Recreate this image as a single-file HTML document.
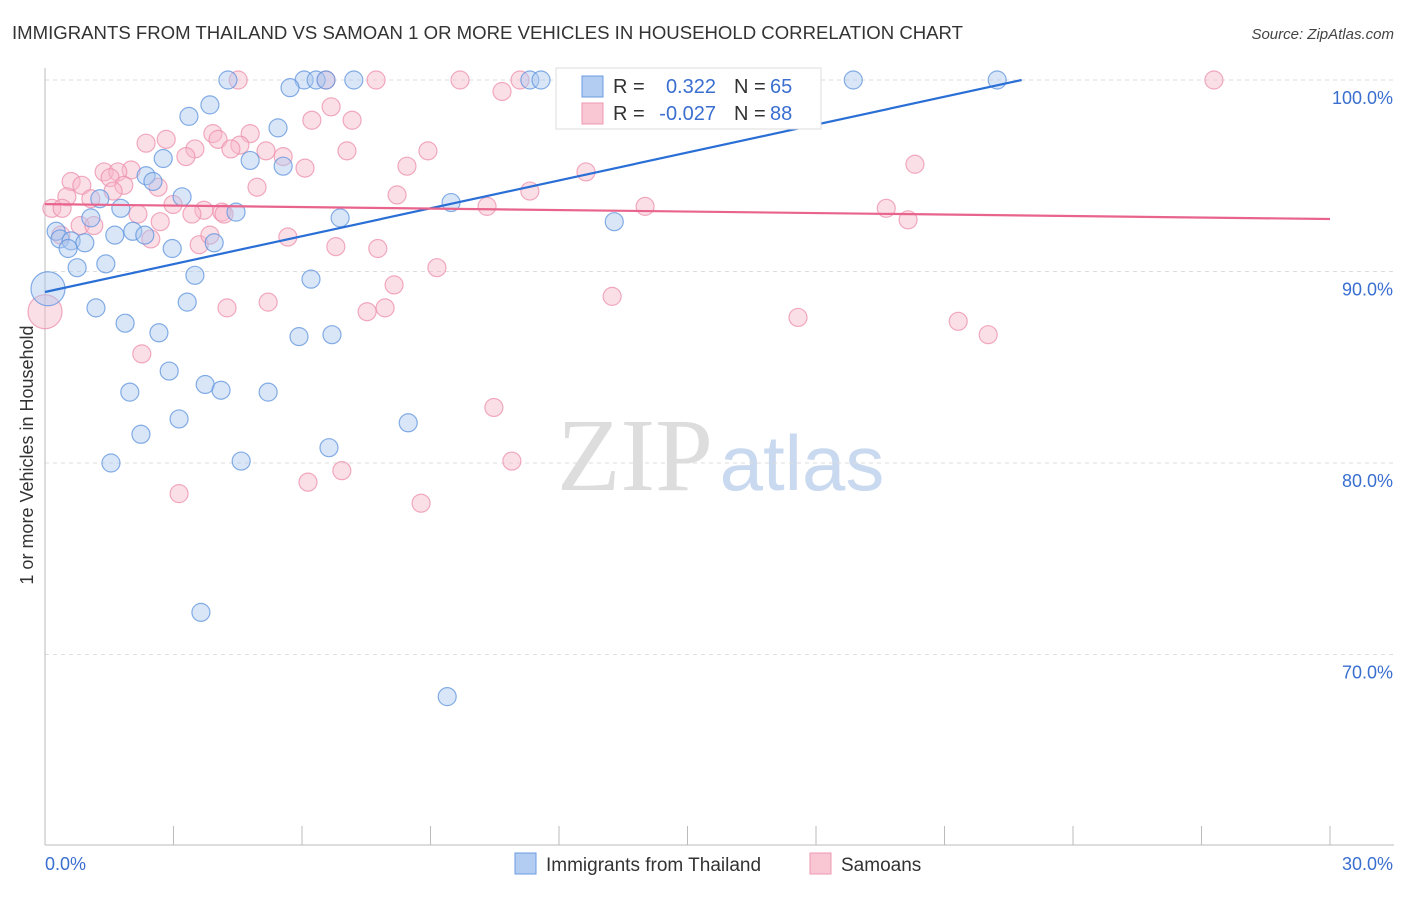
<!DOCTYPE html>
<html><head><meta charset="utf-8"><style>
body{margin:0;background:#fff;width:1406px;height:892px;overflow:hidden;font-family:"Liberation Sans",sans-serif}
</style></head><body>
<svg id="chart" width="1406" height="892" xmlns="http://www.w3.org/2000/svg">
<text x="12" y="39" font-size="18" fill="#333" textLength="951" lengthAdjust="spacingAndGlyphs">IMMIGRANTS FROM THAILAND VS SAMOAN 1 OR MORE VEHICLES IN HOUSEHOLD CORRELATION CHART</text>
<text x="1394" y="39" font-size="15" fill="#444" text-anchor="end" font-style="italic">Source: ZipAtlas.com</text>
<text transform="translate(33,455) rotate(-90)" font-size="18" fill="#333" text-anchor="middle">1 or more Vehicles in Household</text>
<g><text x="635" y="490" font-size="104" fill="#ddd" font-family="Liberation Serif,serif" text-anchor="middle">ZIP</text><text x="802" y="490" font-size="78" fill="#c9d9ef" text-anchor="middle">atlas</text></g>
<g id="grid"></g><g id="axes"></g><g id="pts"></g><g id="trends"></g>
<g>
<rect x="556" y="68" width="265" height="61" fill="#fff" stroke="#ddd"/>
<rect x="582" y="76" width="21" height="21" fill="#b3cdf2" stroke="#6a9be0"/>
<rect x="582" y="103" width="21" height="21" fill="#f9c6d4" stroke="#ef9ab2"/>
<text x="613" y="93" font-size="20" fill="#333">R =</text><text x="716" y="93" font-size="20" fill="#3a6fd0" text-anchor="end">0.322</text>
<text x="734" y="93" font-size="20" fill="#333">N =</text><text x="770" y="93" font-size="20" fill="#3a6fd0">65</text>
<text x="613" y="120" font-size="20" fill="#333">R =</text><text x="716" y="120" font-size="20" fill="#3a6fd0" text-anchor="end">-0.027</text>
<text x="734" y="120" font-size="20" fill="#333">N =</text><text x="770" y="120" font-size="20" fill="#3a6fd0">88</text>
</g>
<g>
<rect x="515" y="853" width="21" height="21" fill="#b3cdf2" stroke="#6a9be0"/>
<text x="546" y="871" font-size="19" fill="#333">Immigrants from Thailand</text>
<rect x="810" y="853" width="21" height="21" fill="#f9c6d4" stroke="#ef9ab2"/>
<text x="841" y="871" font-size="19" fill="#333">Samoans</text>
</g>
</svg>
<script>
const yTicks=[100,90,80,70];
const yTickLabels=["100.0%","90.0%","80.0%","70.0%"];
const xTickLabels=["0.0%","30.0%"];
const blueX=[4.27,6.05,6.33,6.56,7.21,11.32,11.58,18.87,22.23,5.72,17.63,3.85,3.36,5.44,2.76,4.79,5.56,2.36,2.52,3.20,1.28,1.77,4.46,1.07,9.48,13.29,6.89,0.26,0.35,0.61,0.93,0.54,1.63,2.05,2.33,2.97,3.95,1.42,0.75,3.50,6.21,0.07,1.19,3.32,1.87,2.66,5.93,6.70,2.90,3.74,4.11,1.98,5.21,3.13,8.48,2.24,6.63,1.54,4.58,3.64,9.39];
const blueY=[100,100,100,100,100,100,100,100,100,99.6,99.1,98.7,98.1,97.5,95.9,95.8,95.5,95.0,94.7,93.9,93.8,93.3,93.1,92.8,93.6,92.6,92.8,92.1,91.7,91.6,91.5,91.2,91.9,92.1,91.9,91.2,91.5,90.4,90.2,89.8,89.6,89.1,88.1,88.4,87.3,86.8,86.6,86.7,84.8,84.1,83.8,83.7,83.7,82.3,82.1,81.5,80.8,80.0,80.1,72.2,67.8];
const pinkX=[4.51,6.56,7.73,9.69,11.09,12.35,14.94,27.29,10.67,6.68,7.17,6.23,4.79,3.92,2.83,2.36,4.04,4.55,4.34,3.50,5.16,7.05,3.29,5.56,8.94,8.45,20.31,6.07,12.63,2.01,1.38,1.70,1.52,1.84,0.61,0.86,2.64,1.59,4.95,8.22,11.32,1.07,0.51,0.16,0.40,2.99,3.71,4.13,10.32,14.01,19.64,2.17,3.43,4.18,2.69,0.82,1.14,20.15,0.37,2.47,3.60,3.85,5.67,6.79,7.77,9.15,8.15,13.24,5.21,4.25,7.52,7.94,0.0,17.58,21.32,22.02,2.26,10.48,10.90,6.93,6.14,3.13,8.78];
const pinkY=[100,100,100,100,100,100,100,100,99.4,98.6,97.9,97.9,97.2,97.2,96.9,96.7,96.9,96.6,96.4,96.4,96.3,96.3,96.0,96.0,96.3,95.5,95.6,95.4,95.2,95.3,95.2,95.2,94.9,94.5,94.7,94.5,94.4,94.2,94.4,94.0,94.2,93.8,93.9,93.3,93.3,93.5,93.2,93.1,93.4,93.4,93.3,93.0,93.0,93.0,92.6,92.4,92.4,92.7,91.9,91.7,91.4,91.9,91.8,91.3,91.2,90.2,89.3,88.7,88.4,88.1,87.9,88.1,87.9,87.6,87.4,86.7,85.7,82.9,80.1,79.6,79.0,78.4,77.9];
const blueBig=[41];const pinkBig=[72];
const blueTrend=[88.93,100];const blueTrendX=[0,22.8];
const pinkTrend=[93.52,92.74];const pinkTrendX=[0,30];
const NS="http://www.w3.org/2000/svg";
const sx=v=>45+v*(1285/30);
const sy=v=>80+(100-v)*19.15;
function mk(t,a,p){const e=document.createElementNS(NS,t);for(const k in a)e.setAttribute(k,a[k]);document.getElementById(p).appendChild(e);return e;}
yTicks.forEach((t,i)=>{
 const g=mk('line',{x1:45,x2:1394,y1:sy(t),y2:sy(t),stroke:'#ddd','stroke-dasharray':'4,4'},'grid');
 
 
 const l=mk('text',{x:1393,y:sy(t)+24,'font-size':18,fill:'#3a6fd0','text-anchor':'end'},'axes');
 l.textContent=yTickLabels[i];
 
 
});
const ax=mk('line',{x1:45,x2:45,y1:68,y2:845,stroke:'#bbb'},'axes');


const bx=mk('line',{x1:45,x2:1394,y1:845,y2:845,stroke:'#bbb'},'axes');


for(let i=0;i<=10;i++){const t=mk('line',{x1:sx(i*3),x2:sx(i*3),y1:826,y2:845,stroke:'#bbb'},'axes');
 
 }
[[0,'start',45],[30,'end',1393]].forEach((d,i)=>{const t=mk('text',{x:d[2],y:870,'font-size':18,fill:'#3a6fd0','text-anchor':d[1]},'axes');t.textContent=xTickLabels[i];
 
 });
function pts(X,Y,big,fill,stroke,name){X.forEach((x,i)=>{const c=mk('circle',{cx:sx(x),cy:sy(Y[i]),r:big.includes(i)?17:9,fill:fill,'fill-opacity':0.45,stroke:stroke,'stroke-opacity':0.75,'stroke-width':1.2},'pts');
 
 });}
pts(pinkX,pinkY,pinkBig,'#f7b7ca','#ec8fab','samoan-point');
pts(blueX,blueY,blueBig,'#aac8f0','#5e93de','thailand-point');
const bl=mk('line',{x1:sx(blueTrendX[0]),y1:sy(blueTrend[0]),x2:sx(blueTrendX[1]),y2:sy(blueTrend[1]),stroke:'#2a6fd6','stroke-width':2.2},'trends');


const pl=mk('line',{x1:sx(pinkTrendX[0]),y1:sy(pinkTrend[0]),x2:sx(pinkTrendX[1]),y2:sy(pinkTrend[1]),stroke:'#e8648c','stroke-width':2.2},'trends');


</script>
</body></html>
